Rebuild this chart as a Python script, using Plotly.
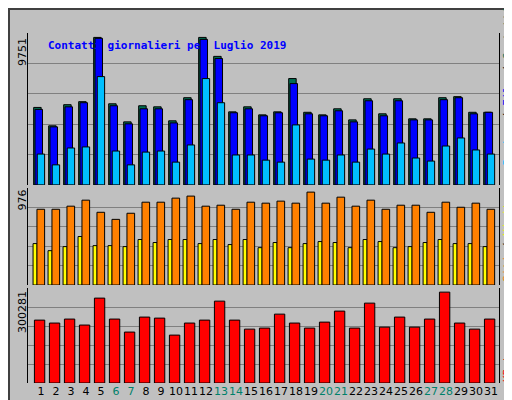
import plotly.graph_objects as go

days = list(range(1, 32))
weekend = [6, 7, 13, 14, 20, 21, 27, 28]
max_top, max_mid, max_bot = 9751, 976, 300281

contatti_f = [.51,.389,.528,.548,.971,.534,.415,.521,.514,.422,.574,.971,.846,.481,.514,.461,.481,.70,.478,.461,.501,.428,.567,.468,.567,.435,.435,.574,.581,.478,.478]
pagine_f = [.497,.382,.514,.541,.965,.521,.402,.501,.501,.408,.561,.958,.832,.475,.501,.455,.475,.667,.468,.455,.488,.415,.554,.455,.554,.428,.428,.561,.574,.468,.478]
file_f = [.203,.132,.243,.25,.713,.223,.132,.216,.223,.15,.263,.70,.541,.197,.197,.163,.15,.395,.17,.163,.197,.15,.236,.203,.276,.177,.157,.256,.309,.23,.203]
visite_f = [.781,.781,.813,.875,.75,.677,.74,.854,.854,.896,.917,.813,.823,.781,.854,.844,.865,.844,.958,.844,.906,.813,.875,.781,.823,.823,.75,.854,.802,.844,.781]
siti_f = [.427,.354,.396,.5,.406,.406,.396,.469,.438,.469,.469,.427,.469,.417,.469,.385,.438,.385,.427,.448,.438,.385,.469,.448,.385,.396,.438,.469,.427,.427,.396]
kbytes_f = [.663,.632,.674,.611,.895,.674,.537,.695,.684,.505,.632,.663,.863,.663,.568,.579,.726,.632,.579,.642,.758,.579,.842,.589,.695,.589,.674,.958,.632,.568,.674]

contatti = [f * max_top for f in contatti_f]
pagine = [f * max_top for f in pagine_f]
files = [f * max_top for f in file_f]
visite = [f * max_mid for f in visite_f]
siti = [f * max_mid for f in siti_f]
kbytes = [f * max_bot for f in kbytes_f]

tick_text = [f"<span style='color:#00806a'>{d}</span>" if d in weekend else str(d) for d in days]

fig = go.Figure()
line = dict(color="black", width=1)
def bar(y, color, off, w, ya):
    fig.add_trace(go.Bar(x=days, y=y, marker=dict(color=color, line=line), offset=off, width=w,
                         yaxis=ya, xaxis="x", showlegend=False, hoverinfo="skip"))

bar(contatti, "#006e52", -0.49, 0.5, "y")
bar(pagine, "#0000ff", -0.4, 0.5, "y")
bar(files, "#00bfff", -0.25, 0.49, "y")
bar(siti, "#ffff00", -0.53, 0.27, "y2")
bar(visite, "#ff8000", -0.27, 0.51, "y2")
bar(kbytes, "#ff0000", -0.44, 0.69, "y3")

def yax(mx, dom):
    return dict(domain=dom, range=[0, mx], tickvals=[mx * i / 5 for i in range(1, 5)],
                showticklabels=False, showgrid=True, gridcolor="#808080", gridwidth=1,
                zeroline=False, showline=True, linecolor="black", mirror=True, fixedrange=True)

fig.update_layout(
    width=512, height=400, margin=dict(l=20, r=21, t=25, b=25, autoexpand=False),
    paper_bgcolor="#c0c0c0", plot_bgcolor="#c0c0c0", barmode="overlay",
    xaxis=dict(range=[0.133, 31.53], tickvals=days, ticktext=tick_text, ticks="", tickangle=0,
               showgrid=False, zeroline=False, anchor="y3", automargin=False,
               tickfont=dict(family="DejaVu Sans", size=11, color="black")),
    yaxis=yax(max_top, [0.566, 1]),
    yaxis2=yax(max_mid, [0.28, 0.557]),
    yaxis3=yax(max_bot, [0, 0.271]),
    font=dict(family="DejaVu Sans Mono"),
)

ann = []
ann.append(dict(text="<b>Contatti giornalieri per Luglio 2019</b>", x=20/512, y=1 - 14/400,
                xref="paper", yref="paper", xanchor="left", yanchor="middle", showarrow=False,
                font=dict(family="DejaVu Sans Mono", size=11, color="#0000ff")))
for lab, ytop in [(str(max_top), 28), (str(max_mid), 180), (str(max_bot), 281)]:
    ann.append(dict(text=lab, textangle=-90, x=(14 - 20) / 471, y=1 - (ytop - 25) / 350,
                    xref="paper", yref="paper", xanchor="center", yanchor="top",
                    showarrow=False, font=dict(family="DejaVu Sans", size=11, color="black")))
right = [
    ("<span style='color:#00bfff'>Pagine</span> / <span style='color:#0000ff'>File</span> / <span style='color:#006e52'>Contatti</span>", 160),
    ("<span style='color:#ff8000'>Siti</span> / <span style='color:#ffff00'>Visite</span>", 276),
    ("<span style='color:#ff0000'>KBytes</span>", 376),
]
for lab, ybot in right:
    ann.append(dict(text=lab, textangle=-90, x=(499 - 20) / 471, y=(375 - ybot) / 350,
                    xref="paper", yref="paper",
                    xanchor="center", yanchor="bottom", showarrow=False,
                    font=dict(family="DejaVu Sans Mono", size=11, color="black")))
fig.update_layout(annotations=ann)

fig.add_shape(type="rect", xref="paper", yref="paper", x0=-19/471, x1=1 + 18/471, y0=-23/350, y1=1 + 24/350,
              line=dict(color="#404040", width=2))
fig.write_html("out.html")
